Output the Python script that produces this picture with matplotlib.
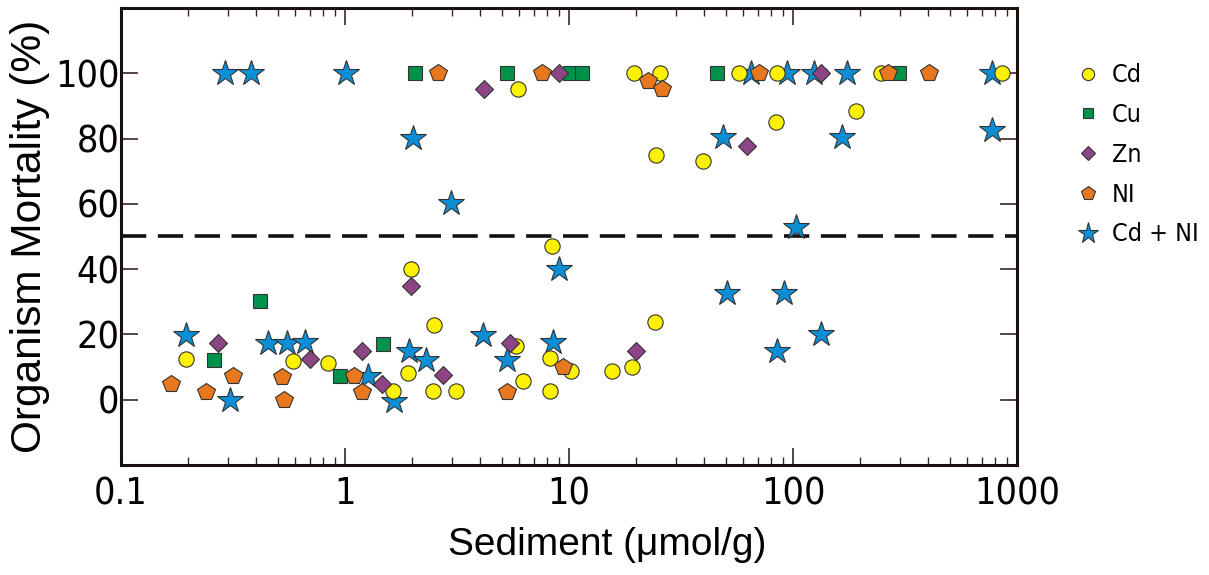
import matplotlib
matplotlib.use("Agg")
import matplotlib.pyplot as plt
from matplotlib import font_manager
from matplotlib.font_manager import FontProperties
from matplotlib.ticker import LogLocator, FixedLocator, NullFormatter

plt.rcParams['font.family'] = ['Liberation Sans', 'DejaVu Sans']

# tick labels and legend in the reference use a narrow sans face
narrow = None
for f in font_manager.fontManager.ttflist:
    n = f.name + " " + f.fname
    if (("Narrow" in n or "Condensed" in n or f.stretch in ("condensed", "semi-condensed"))
            and f.style == "normal" and f.weight in (400, "normal", "regular")):
        narrow = f
        break

if narrow is not None:
    tick_font = FontProperties(fname=narrow.fname, size=27)
    leg_font = FontProperties(fname=narrow.fname, size=18)
else:
    tick_font = FontProperties(family="Liberation Sans", size=23)
    leg_font = FontProperties(family="Liberation Sans", size=16)

# data (x = sediment concentration, y = mortality %)
cd_x = [5.94, 19.5, 25.5, 57.6, 84.6, 246, 855, 24.5, 39.5, 84.0, 192, 8.37, 1.97, 2.50,
        24.2, 5.80, 8.23, 0.195, 0.588, 0.837, 1.92, 1.64, 2.48, 3.12, 6.25, 8.23, 10.2, 15.6, 19.2]
cd_y = [95.2, 100, 100, 100, 100, 100, 100, 75, 73, 85.2, 88.5, 47, 40, 23,
        23.8, 16.5, 12.8, 12.4, 12.0, 11.4, 8.2, 2.8, 2.8, 2.8, 5.8, 2.8, 8.7, 8.9, 9.9]

cu_x = [2.05, 5.30, 10.1, 11.4, 45.9, 298, 0.418, 0.261, 1.48, 0.950]
cu_y = [100, 100, 100, 100, 100, 100, 30.1, 12.3, 17.0, 7.4]

zn_x = [4.18, 9.0, 133, 62.1, 1.98, 0.272, 5.45, 0.698, 1.19, 2.75, 1.47, 19.9]
zn_y = [95.2, 100, 100, 77.6, 34.9, 17.4, 17.4, 12.4, 14.8, 7.7, 4.9, 14.8]

ni_x = [2.61, 7.60, 22.6, 25.9, 70.7, 266, 405, 0.167, 0.317, 0.525, 1.10, 0.239, 0.536,
        1.19, 5.27, 9.43]
ni_y = [100, 100, 97.5, 95.2, 100, 100, 100, 4.9, 7.4, 7.1, 7.4, 2.5, 0,
        2.5, 2.5, 10.0]

cdni_x = [0.291, 0.379, 1.01, 64.7, 93.7, 124, 174, 771, 2.01, 2.96, 48.9, 165, 771, 103,
          9.05, 0.196, 0.455, 0.549, 0.663, 1.93, 2.30, 4.14, 8.51, 5.27, 1.26, 1.66, 0.307,
          50.6, 91.2, 85.1, 134]
cdni_y = [100, 100, 100, 100, 100, 100, 100, 100, 80.1, 60.2, 80.4, 80.4, 82.7, 52.9,
          40, 19.9, 17.4, 17.4, 17.6, 14.8, 12.3, 19.9, 17.6, 12.3, 7.4, -0.5, -0.2,
          32.7, 32.7, 14.8, 20.2]

threshold = 50

fig = plt.figure(figsize=(12.09, 5.75), dpi=100)
ax = fig.add_axes([0.1001, 0.1913, 0.7411, 0.7948])

edge = "#333333"
ax.plot(cdni_x, cdni_y, "*", ms=19, mfc="#0a8fd6", mec=edge, mew=0.8, label="Cd + NI", zorder=3)
ax.plot(cd_x, cd_y, "o", ms=11, mfc="#fff200", mec=edge, mew=0.8, label="Cd", zorder=4)
ax.plot(cu_x, cu_y, "s", ms=9.5, mfc="#00924a", mec=edge, mew=0.8, label="Cu", zorder=4)
ax.plot(zn_x, zn_y, "D", ms=9, mfc="#8e4585", mec=edge, mew=0.8, label="Zn", zorder=4)
ax.plot(ni_x, ni_y, "p", ms=13, mfc="#e8771e", mec=edge, mew=0.8, label="NI", zorder=4)

ax.axhline(threshold, color="#111111", lw=2.6, ls=(0, (7.0, 3.2)), zorder=2)

ax.set_xscale("log")
ax.set_xlim(0.1, 1000)
ax.set_ylim(-20, 120)
ax.xaxis.set_major_locator(FixedLocator([0.1, 1, 10, 100, 1000]))
ax.xaxis.set_minor_locator(LogLocator(base=10, subs=range(2, 10)))
ax.xaxis.set_minor_formatter(NullFormatter())
ax.set_xticklabels(["0.1", "1", "10", "100", "1000"])
ax.set_yticks([0, 20, 40, 60, 80, 100])
for lab in ax.get_xticklabels() + ax.get_yticklabels():
    lab.set_fontproperties(tick_font)

tick_col = "#3b2525"
ax.tick_params(axis="both", which="major", direction="in", length=12, width=1.2,
               color=tick_col, top=True, right=True)
ax.tick_params(axis="x", which="minor", direction="in", length=6, width=1.0,
               color=tick_col, top=True)
ax.tick_params(axis="x", which="major", pad=8)
ax.tick_params(axis="y", which="major", pad=1)

for s in ax.spines.values():
    s.set_linewidth(2.2)
    s.set_color("#1a1010")

ax.set_xlabel("Sediment (\u03bcmol/g)", fontsize=28, labelpad=6)
ax.xaxis.set_label_coords(0.5424, -0.135)
ax.set_ylabel("Organism Mortality (%)", fontsize=30.5, labelpad=4)

handles, labels = ax.get_legend_handles_labels()
order = [1, 2, 3, 4, 0]
fig.legend([handles[i] for i in order], [labels[i] for i in order],
           loc="upper left", bbox_to_anchor=(0.8724, 0.929), frameon=False,
           prop=leg_font, handlelength=0.9, handletextpad=0.5, labelspacing=0.63,
           markerscale=0.8)

fig.savefig("out.png", dpi=100)
